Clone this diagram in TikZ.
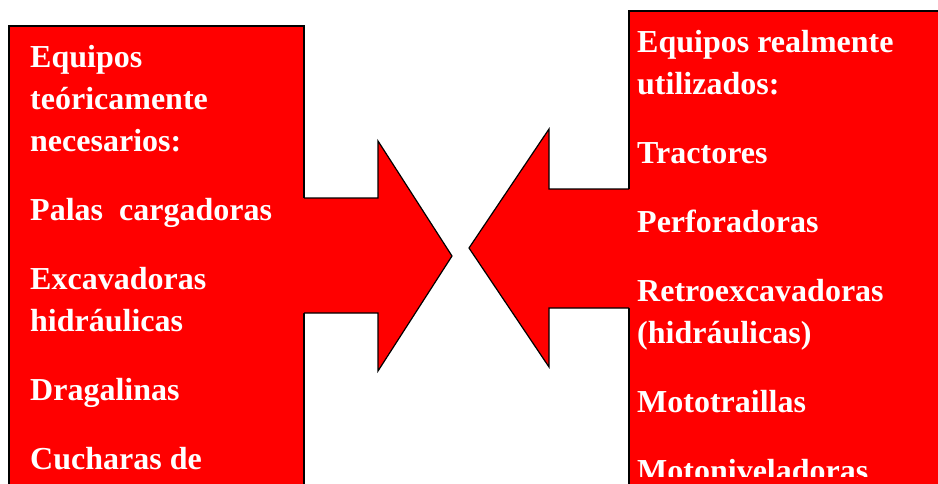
\documentclass[tikz,border=0pt]{standalone}
\usepackage{fontspec}
\setmainfont{Liberation Serif}
\begin{document}
\begin{tikzpicture}[x=1pt, y=-1pt,
    panel/.style={fill=red, draw=black, line width=1.5pt},
    outline/.style={draw=black, line width=1.2pt, line join=miter},
    item/.style={anchor=base west, inner sep=0pt, text=white,
      font=\fontsize{32}{42}\selectfont\bfseries}
  ]
  \useasboundingbox (0,0) rectangle (938,483);
  \clip (0,0) rectangle (938,483);
  % panels
  \draw[panel] (9,26) rectangle (304,530);
  \draw[panel] (629,11) rectangle (960,530);
  % block arrows
  \fill[red] (300,198) -- (378,198) -- (378,141) -- (452,256) -- (378,371) -- (378,313) -- (300,313) -- cycle;
  \draw[outline] (304,198) -- (378,198) -- (378,141) -- (452,256) -- (378,371) -- (378,313) -- (304,313);
  \fill[red] (633,189) -- (549,189) -- (549,129) -- (469,248) -- (549,367) -- (549,308) -- (633,308) -- cycle;
  \draw[outline] (629,189) -- (549,189) -- (549,129) -- (469,248) -- (549,367) -- (549,308) -- (629,308);
  % texts
  \begin{scope}
    \clip (0,0) rectangle (938,476);
    \foreach \y/\txt [count=\i] in {67/Equipos, 109/teóricamente, 151/necesarios:,
        220/Palas\ \ cargadoras, 289/Excavadoras, 331/hidráulicas,
        400/Dragalinas, 469/Cucharas de}
      \node[item] (left\i) at (30,\y) {\txt};
    \foreach \y/\txt [count=\i] in {52/Equipos realmente, 94/utilizados:,
        163/Tractores, 232/Perforadoras, 301/Retroexcavadoras, 343/(hidráulicas),
        412/Mototraillas, 481/Motoniveladoras}
      \node[item] (right\i) at (637,\y) {\txt};
  \end{scope}
\end{tikzpicture}
\end{document}
